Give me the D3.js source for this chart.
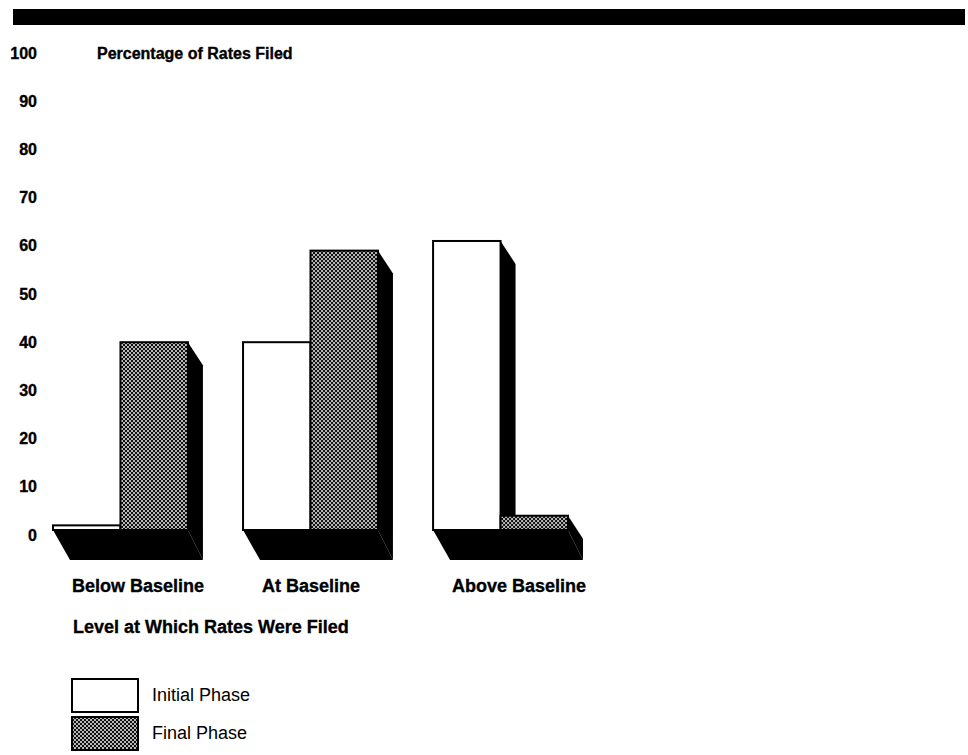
<!DOCTYPE html>
<html>
<head>
<meta charset="utf-8">
<script src="https://cdn.jsdelivr.net/npm/d3@7"></script>
<style>
  body { margin: 0; background: #fff; }
  text { font-family: "Liberation Sans", Arial, sans-serif; fill: #000; }
  text.heavy { font-weight: bold; stroke: #000; stroke-width: 0.35px; }
</style>
</head>
<body>
<script>
// chart values
const categories = ["Below Baseline", "At Baseline", "Above Baseline"];
const phases = ["Initial Phase", "Final Phase"];
const initialPhase = [2, 40, 61];
const finalPhase = [40, 59, 4];
const yTicks = [0, 10, 20, 30, 40, 50, 60, 70, 80, 90, 100];

const width = 968;
const height = 755;

const rows = categories.map((c, i) => ({
    cat: c,
    vals: [
        { phase: phases[0], v: initialPhase[i] },
        { phase: phases[1], v: finalPhase[i] }
    ]
}));

const svg = d3.select("body")
    .append("svg")
    .attr("width", width)
    .attr("height", height);

// halftone dots for the final phase
const defs = svg.append("defs");
const pat = defs.append("pattern")
    .attr("id", "dots")
    .attr("patternUnits", "userSpaceOnUse")
    .attr("width", 4)
    .attr("height", 4);
pat.append("rect").attr("width", 4).attr("height", 4).attr("fill", "#111");
pat.append("circle").attr("cx", 1).attr("cy", 1).attr("r", 0.95).attr("fill", "#fff");
pat.append("circle").attr("cx", 3).attr("cy", 3).attr("r", 0.95).attr("fill", "#fff");

// black banner across the top
svg.append("rect")
    .attr("x", 13).attr("y", 9)
    .attr("width", width - 16).attr("height", 16)
    .attr("fill", "#000");

const y = d3.scaleLinear().domain([0, 100]).range([535, 53]);
const baseY = 530;      // front edge of the floor
const floorY = 560;     // back edge of the floor
const sideDx = 15, sideDy = 23;  // depth of bar tops
const floorDx = 17;

const x0 = d3.scaleBand()
    .domain(categories)
    .range([53, 568])
    .paddingInner(0.29);

const x1 = d3.scaleBand()
    .domain(phases)
    .range([0, x0.bandwidth()]);

const fillOf = d3.scaleOrdinal().domain(phases).range(["#fff", "url(#dots)"]);

// y tick labels
svg.append("g")
    .selectAll("text")
    .data(yTicks)
    .join("text")
    .attr("class", "heavy")
    .attr("x", 37)
    .attr("y", d => y(d))
    .attr("dy", "0.35em")
    .attr("text-anchor", "end")
    .attr("font-size", 16)
    .text(d => d);

svg.append("text")
    .attr("class", "heavy")
    .attr("x", 97)
    .attr("y", y(100))
    .attr("dy", "0.35em")
    .attr("font-size", 16)
    .text("Percentage of Rates Filed");

const groups = svg.append("g")
    .selectAll("g")
    .data(rows)
    .join("g")
    .attr("transform", d => `translate(${x0(d.cat)},0)`);

// floor slab under each pair
groups.append("path")
    .attr("fill", "#000")
    .attr("d", () => {
        const w = x0.bandwidth();
        return `M0,${baseY}L${w},${baseY}L${w + sideDx},${floorY}L${floorDx},${floorY}Z`;
    });

groups.each(function (d) {
    const g = d3.select(this);
    d.vals.forEach(b => {
        const bx = x1(b.phase);
        const bw = x1.bandwidth();
        const top = y(b.v);
        // right side face
        g.append("path")
            .attr("fill", "#000")
            .attr("d", `M${bx + bw},${top}L${bx + bw + sideDx},${top + sideDy}L${bx + bw + sideDx},${floorY}L${bx + bw},${baseY}Z`);
        // front face
        g.append("rect")
            .attr("x", bx)
            .attr("y", top)
            .attr("width", bw)
            .attr("height", baseY - top)
            .attr("fill", fillOf(b.phase))
            .attr("stroke", "#000")
            .attr("stroke-width", 2);
    });
});

// category labels
groups.append("text")
    .attr("class", "heavy")
    .attr("x", 19)
    .attr("y", 592)
    .attr("font-size", 18)
    .text(d => d.cat);

svg.append("text")
    .attr("class", "heavy")
    .attr("x", 73)
    .attr("y", 633)
    .attr("font-size", 18)
    .text("Level at Which Rates Were Filed");

// legend
const legend = svg.append("g")
    .selectAll("g")
    .data(phases)
    .join("g")
    .attr("transform", (d, i) => `translate(72,${679 + i * 38})`);

legend.append("rect")
    .attr("width", 66)
    .attr("height", 33)
    .attr("fill", d => fillOf(d))
    .attr("stroke", "#000")
    .attr("stroke-width", 2);

legend.append("text")
    .attr("x", 80)
    .attr("y", 22)
    .attr("font-size", 18)
    .text(d => d);
</script>
</body>
</html>
